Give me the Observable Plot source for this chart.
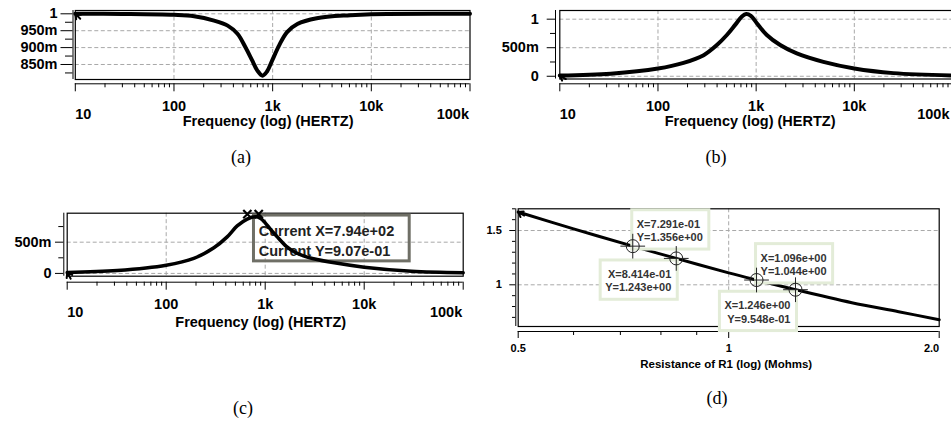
<!DOCTYPE html>
<html><head><meta charset="utf-8">
<script src="https://cdn.jsdelivr.net/npm/d3@7"></script>
<script src="https://cdn.jsdelivr.net/npm/@observablehq/plot@0.6"></script>
<style>
html,body{margin:0;padding:0;background:#fff;overflow:hidden}
#fig{position:relative;width:951px;height:429px;overflow:hidden;background:#fff}
#fig svg{position:absolute;max-width:none}
.cap{position:absolute;font-family:"Liberation Serif","Times New Roman",serif;font-size:18px;color:#000;transform:translate(-50%,-50%);white-space:nowrap}
</style></head><body><div id="fig"></div>
<script>
// ---------- data ----------
// (a) notch response
const freqA = [10, 30, 100, 160, 255, 350, 440, 530, 620, 700, 790, 880, 990, 1160, 1400, 1780, 2800, 6100, 10000, 100000];
const magA  = [1.0, 0.9995, 0.997, 0.993, 0.980, 0.965, 0.941, 0.901, 0.862, 0.832, 0.817, 0.830, 0.862, 0.906, 0.946, 0.970, 0.987, 0.996, 0.999, 1.0];
// (b) band-pass response
const freqB = [10, 33, 100, 182, 292, 398, 503, 611, 716, 792, 884, 1016, 1284, 1757, 2594, 4840, 10000, 25000, 100000];
const magB  = [0.012, 0.045, 0.135, 0.235, 0.37, 0.547, 0.723, 0.90, 1.046, 1.09, 1.058, 0.93, 0.723, 0.547, 0.40, 0.252, 0.136, 0.055, 0.014];
// (c) band-pass response with cursor
const freqC = [10, 32, 100, 190, 303, 413, 521, 658, 794, 900, 1000, 1133, 1300, 1633, 2000, 2438, 3000, 5000, 10000, 30000, 100000];
const magC  = [0.013, 0.045, 0.13, 0.24, 0.41, 0.585, 0.76, 0.87, 0.907, 0.88, 0.81, 0.705, 0.60, 0.434, 0.34, 0.28, 0.24, 0.17, 0.10, 0.035, 0.012];
const cursorCX = 794, cursorCY = 0.907;
const peakMarksF = [660, 860];
const peakMarksV = [0.95, 0.95];
// (d) sweep over R1
const resD = [0.5, 0.6, 0.7291, 0.8414, 1.0, 1.096, 1.246, 1.5, 1.75, 2.0];
const valD = [1.67, 1.515, 1.356, 1.243, 1.11, 1.044, 0.9548, 0.835, 0.752, 0.678];
const cursorR = [0.7291, 0.8414, 1.096, 1.246];
const cursorV = [1.356, 1.243, 1.044, 0.9548];
const cursorSide = ["ne", "sw", "ne", "sw"];

// ticks
const xDecades = [10, 100, 1000, 10000, 100000];
const xDecadeLabels = ["10", "100", "1k", "10k", "100k"];
const xMinor = [10, 100, 1000, 10000].flatMap(d => [2,3,4,5,6,7,8,9].map(k => k * d));
const yTicksA = [0.85, 0.9, 0.95, 1], yLabelsA = ["850m", "900m", "950m", "1"], yMinorA = [0.825, 0.875, 0.925, 0.975];
const yTicksB = [0, 0.5, 1], yLabelsB = ["0", "500m", "1"], yMinorB = [0.25, 0.75];
const yTicksC = [0, 0.5], yLabelsC = ["0", "500m"], yMinorC = [0.25, 0.75];
const yTicksD = [1, 1.5], yLabelsD = ["1", "1.5"], yMinorD = [0.7, 0.8, 0.9, 1.1, 1.2, 1.3, 1.4, 1.6, 1.7];
const xTicksD = [0.5, 1, 2], xLabelsD = ["0.5", "1", "2.0"], xMinorD = [0.6, 0.7, 0.8, 0.9];
const xTitleF = "Frequency (log) (HERTZ)";
const xTitleD = "Resistance of R1 (log) (Mohms)";
const captions = ["(a)", "(b)", "(c)", "(d)"];

// ---------- helpers ----------
const fmtExp = (v, p) => v.toExponential(p).replace(/e([+-])(\d)$/, "e$10$2");
const gridStyle = {stroke: "#a8a8a8", strokeOpacity: 1, strokeDasharray: "4,2.5", strokeWidth: 1};
const arrowShape = {draw(ctx, l) { ctx.moveTo(0, 0); ctx.lineTo(0, -l); ctx.moveTo(-3.2, -l + 4.5); ctx.lineTo(0, -l); ctx.lineTo(3.2, -l + 4.5); }};
const baseStyle = (fs) => ({fontFamily: "'Liberation Sans', Arial, sans-serif", fontSize: fs + "px", fontWeight: "bold", color: "#000", background: "none", overflow: "visible"});
const fig = document.getElementById("fig");
function place(svg, left, top) { svg.style.left = left + "px"; svg.style.top = top + "px"; fig.appendChild(svg); return svg; }
function boxify(svg, label, pad, stroke, fill, sw) {
  svg.querySelectorAll(`g[aria-description="${label}"] text`).forEach(t => {
    const b = t.getBBox();
    const r = document.createElementNS("http://www.w3.org/2000/svg", "rect");
    r.setAttribute("x", b.x - pad[3]); r.setAttribute("y", b.y - pad[0]);
    r.setAttribute("width", b.width + pad[1] + pad[3]); r.setAttribute("height", b.height + pad[0] + pad[2]);
    r.setAttribute("fill", fill); r.setAttribute("stroke", stroke); r.setAttribute("stroke-width", sw);
    const tr = t.getAttribute("transform"); if (tr) r.setAttribute("transform", tr);
    t.parentNode.insertBefore(r, t);
  });
}

function freqPanel(c) {
  const pts = c.freq.map((f, i) => [f, c.mag[i]]);
  const xl = d => xDecadeLabels[xDecades.indexOf(d)];
  return Plot.plot({
    width: c.w, height: c.h, marginLeft: c.ml, marginRight: c.mr, marginTop: c.mt, marginBottom: c.mb,
    x: {type: "log", domain: [10, 100000]},
    y: {domain: c.yDomain},
    style: baseStyle(14.5),
    marks: [
      Plot.gridX([100, 1000, 10000], gridStyle),
      Plot.gridY(c.yGrid, gridStyle),
      Plot.frame({stroke: "#000", strokeWidth: 1.2}),
      Plot.ruleX([xDecades[0]], {dx: c.yDx, stroke: "#000"}),
      Plot.axisY(c.yTicks, {anchor: "left", dx: c.yDx, tickSize: c.yMaj, tickPadding: c.yPad, tickFormat: d => c.yLabels[c.yTicks.indexOf(d)], label: null}),
      Plot.axisY(c.yMinor, {anchor: "left", dx: c.yDx, tickSize: c.yMin, tickFormat: () => "", label: null}),
      Plot.ruleY([c.yDomain[0]], {dy: c.xDy, stroke: "#000"}),
      Plot.axisX(xDecades, {anchor: "bottom", dy: c.xDy, tickSize: 8, tickFormat: () => "", label: null}),
      Plot.axisX(xMinor, {anchor: "bottom", dy: c.xDy, tickSize: 4, tickFormat: () => "", label: null}),
      Plot.text(xDecades.slice(1, -1), {x: d => d, text: xl, frameAnchor: "bottom", lineAnchor: "top", dy: c.midDy}),
      Plot.text([xDecades[0]], {x: d => d, text: xl, frameAnchor: "bottom", lineAnchor: "top", textAnchor: "start", dy: c.lowDy}),
      Plot.text([xDecades[xDecades.length - 1]], {x: d => d, text: xl, frameAnchor: "bottom", lineAnchor: "top", textAnchor: "end", dx: c.endDx, dy: c.lowDy}),
      Plot.text([xTitleF], {frameAnchor: "bottom", lineAnchor: "top", dy: c.titleDy, dx: c.titleDx}),
      ...(c.before || []),
      Plot.line(pts, {x: d => d[0], y: d => d[1], stroke: "#000", strokeWidth: c.sw, curve: "catmull-rom", strokeLinejoin: "round"}),
      Plot.vector([pts[0]], {x: d => d[0], y: d => d[1], rotate: c.rot, length: 7, anchor: "end", shape: arrowShape, stroke: "#000", strokeWidth: 2}),
      ...(c.after || [])
    ]
  });
}

// (a)
place(freqPanel({
  freq: freqA, mag: magA, w: 475, h: 130, ml: 74.8, mr: 5.5, mt: 10, mb: 51,
  yDomain: [0.8056, 1.0098], yTicks: yTicksA, yLabels: yLabelsA, yMinor: yMinorA, yGrid: yTicksA,
  yDx: -2.3, yMaj: 12, yMin: 7.5, yPad: 3.5, xDy: 4.3, midDy: 21, lowDy: 29.3, titleDy: 36, titleDx: -4.5, endDx: -1,
  sw: 4, rot: 315
}), 0, 0);

// (b)
place(freqPanel({
  freq: freqB, mag: magB, w: 478, h: 130, ml: 83.3, mr: 2, mt: 10, mb: 51.5,
  yDomain: [-0.048, 1.152], yTicks: yTicksB, yLabels: yLabelsB, yMinor: yMinorB, yGrid: yTicksB,
  yDx: -4.3, yMaj: 8.3, yMin: 5, yPad: 8.4, xDy: 4.8, midDy: 21.5, lowDy: 29.8, titleDy: 36.5, titleDx: -6, endDx: -3,
  sw: 4, rot: 300
}), 476, 0);

// (c)
const svgC = place(freqPanel({
  freq: freqC, mag: magC, w: 475, h: 145, ml: 66.7, mr: 12.3, mt: 17.7, mb: 64.3,
  yDomain: [-0.0445, 0.964], yTicks: yTicksC, yLabels: yLabelsC, yMinor: yMinorC, yGrid: yTicksC,
  yDx: -3.4, yMaj: 8.3, yMin: 5, yPad: 4, xDy: 6, midDy: 22.6, lowDy: 30.3, titleDy: 41, titleDx: -4.5, endDx: -1,
  sw: 3.5, rot: 330,
  before: [
    Plot.text([[cursorCX, cursorCY]], {x: d => d[0], y: d => d[1],
      text: d => `Current X=${fmtExp(d[0], 2)}\nCurrent Y=${fmtExp(d[1], 2)}`,
      textAnchor: "start", lineAnchor: "top", dx: 3.5, dy: 4.7, lineHeight: 1.38, fill: "#222", ariaDescription: "cursor-box"})
  ],
  after: [
    Plot.dot(peakMarksF.map((f, i) => [f, peakMarksV[i]]), {x: d => d[0], y: d => d[1], symbol: "times", r: 3.8, stroke: "#000", strokeWidth: 2.2})
  ]
}), 0, 195);
boxify(svgC, "cursor-box", [7.6, 15, 2.2, 5.3], "#6f6f66", "none", 3);

// (d)
const ptsD = resD.map((r, i) => [r, valD[i]]);
const curD = cursorR.map((r, i) => ({r, v: cursorV[i], side: cursorSide[i], label: `X=${fmtExp(r, 3)}\nY=${fmtExp(cursorV[i], 3)}`}));
const xlD = d => xLabelsD[xTicksD.indexOf(d)];
const svgD = place(Plot.plot({
  width: 475, height: 175, marginLeft: 41.7, marginRight: 12.3, marginTop: 13.3, marginBottom: 44,
  x: {type: "log", domain: [0.5, 2]},
  y: {domain: [0.616, 1.70]},
  style: baseStyle(11),
  marks: [
    Plot.gridX([1], gridStyle),
    Plot.gridY(yTicksD, gridStyle),
    Plot.frame({stroke: "#000", strokeWidth: 1.2}),
    Plot.ruleX([0.5], {dx: -2.4, stroke: "#000"}),
    Plot.axisY(yTicksD, {anchor: "left", dx: -2.4, tickSize: 6, tickPadding: 8, tickFormat: d => yLabelsD[yTicksD.indexOf(d)], label: null}),
    Plot.axisY(yMinorD, {anchor: "left", dx: -2.4, tickSize: 3.3, tickFormat: () => "", label: null}),
    Plot.ruleY([0.616], {dy: 5, stroke: "#000"}),
    Plot.axisX(xTicksD, {anchor: "bottom", dy: 5, tickSize: 7, tickFormat: () => "", label: null}),
    Plot.axisX(xMinorD, {anchor: "bottom", dy: 5, tickSize: 4, tickFormat: () => "", label: null}),
    Plot.text(xTicksD.slice(0, 2), {x: d => d, text: xlD, frameAnchor: "bottom", lineAnchor: "top", dy: 18}),
    Plot.text(xTicksD.slice(2), {x: d => d, text: xlD, frameAnchor: "bottom", lineAnchor: "top", textAnchor: "end", dy: 18}),
    Plot.text([xTitleD], {frameAnchor: "bottom", lineAnchor: "top", dy: 33.3, dx: -2.5, fontSize: 11.5}),
    Plot.line(ptsD, {x: d => d[0], y: d => d[1], stroke: "#000", strokeWidth: 3, curve: "catmull-rom"}),
    Plot.vector([ptsD[0]], {x: d => d[0], y: d => d[1], rotate: 300, length: 7, anchor: "end", shape: arrowShape, stroke: "#000", strokeWidth: 2}),
    Plot.text(curD.filter(d => d.side === "ne"), {x: "r", y: "v", text: "label", textAnchor: "start", lineAnchor: "bottom", dx: 4, dy: -5.1, lineHeight: 1.21, fill: "#333", ariaDescription: "cursor-label"}),
    Plot.text(curD.filter(d => d.side === "sw"), {x: "r", y: "v", text: "label", textAnchor: "end", lineAnchor: "top", dx: -5, dy: 10.1, lineHeight: 1.21, fill: "#333", ariaDescription: "cursor-label"}),
    Plot.dot(curD, {x: "r", y: "v", r: 6.5, stroke: "#222", strokeWidth: 1, fill: "none"}),
    Plot.dot(curD, {x: "r", y: "v", symbol: "plus", r: 8, stroke: "#222", strokeWidth: 1})
  ]
}), 476, 195);
boxify(svgD, "cursor-label", [8, 6, 6, 5], "#e3ecd8", "#fff", 3);

// captions
const capPos = [[241, 157], [716, 157], [243, 408], [717, 398]];
captions.forEach((t, i) => {
  const d = document.createElement("div");
  d.className = "cap"; d.textContent = t;
  d.style.left = capPos[i][0] + "px"; d.style.top = capPos[i][1] + "px";
  fig.appendChild(d);
});
</script>
</body></html>
